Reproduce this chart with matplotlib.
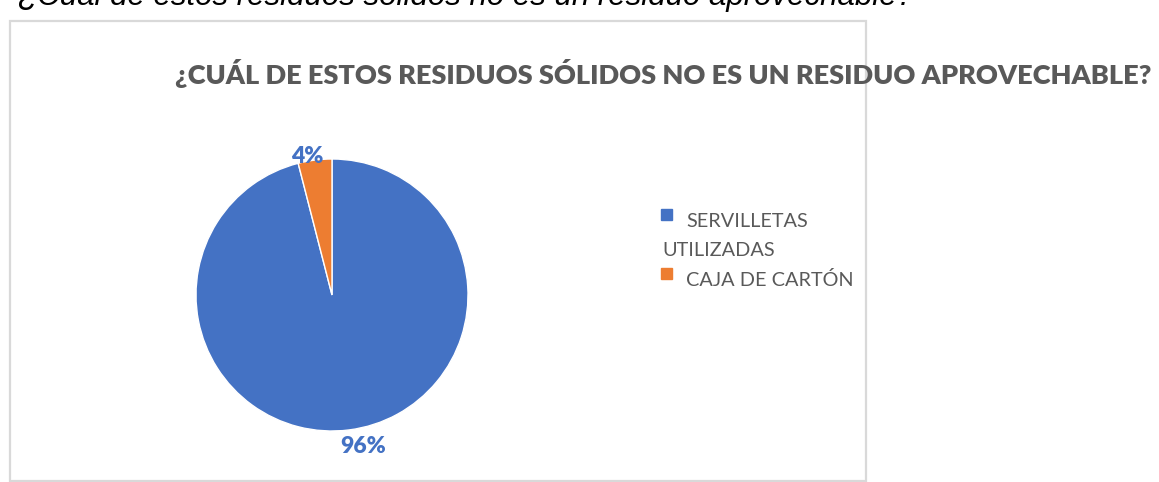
import numpy as np
import matplotlib
matplotlib.use("Agg")
import matplotlib.pyplot as plt
from matplotlib.patches import Rectangle

# data
categories = ["SERVILLETAS UTILIZADAS", "CAJA DE CARTÓN"]
values = [96, 4]
colors = ["#4472C4", "#ED7D31"]
title = "¿CUÁL DE ESTOS RESIDUOS SÓLIDOS NO ES UN RESIDUO APROVECHABLE?"
question = "¿Cuál de estos residuos sólidos no es un residuo aprovechable?"

W, H = 1159, 482
fig = plt.figure(figsize=(W / 100, H / 100), dpi=100)
fig.patch.set_facecolor("white")


def px(x, y):
    # pixel (from top-left) -> figure fraction
    return x / W, 1 - y / H


def fit_text(t, target_w):
    r = fig.canvas.get_renderer()
    w = t.get_window_extent(renderer=r).width
    t.set_fontsize(t.get_fontsize() * target_w / w)


# chart frame
fig.add_artist(Rectangle(px(10, 481), 856 / W, 460 / H, transform=fig.transFigure,
                         fill=False, edgecolor="#d9d9d9", lw=1.6))

# question text above the chart, cut off by the crop like in the original
q = fig.text(*px(18, 5), question, fontsize=17, style="italic",
             family="Liberation Sans", color="black", ha="left", va="baseline")
fit_text(q, 897)

# title
tt = fig.text(*px(175, 84), title, fontsize=19, fontweight="heavy",
              family="Lato", color="#595959", ha="left", va="baseline")
fit_text(tt, 977)

# pie
cx, cy, r = 332, 295, 136
ax = fig.add_axes([(cx - r) / W, 1 - (cy + r) / H, 2 * r / W, 2 * r / H])
wedges, _ = ax.pie(values, colors=colors, startangle=90, counterclock=False,
                   radius=1, wedgeprops=dict(edgecolor="white", linewidth=1.0))
ax.set_xlim(-1, 1)
ax.set_ylim(-1, 1)
ax.set_aspect("equal")
ax.axis("off")

total = sum(values)
lab_r = [1.12, 1.03]
lab_dx = [0.09, -0.05]
for w, v, lr, dx in zip(wedges, values, lab_r, lab_dx):
    ang = np.deg2rad((w.theta1 + w.theta2) / 2)
    ax.text(lr * np.cos(ang) + dx, lr * np.sin(ang), f"{round(100 * v / total)}%",
            ha="center", va="center", fontsize=16.5, fontweight="heavy",
            family="Lato", color="#4472C4", clip_on=False)

# legend, drawn the way the original wraps it
ly = [227, 286]
for i, (lab, c) in enumerate(zip(categories, colors)):
    fig.add_artist(Rectangle(px(661, ly[i] - 7), 11 / W, 11 / H,
                             transform=fig.transFigure, color=c))
    parts = lab.split(" ", 1) if i == 0 else [lab]
    fig.text(*px(686, ly[i]), parts[0], fontsize=14.3, family="Lato",
             color="#595959", ha="left", va="baseline")
    if len(parts) > 1:
        fig.text(*px(662, ly[i] + 29), parts[1], fontsize=14.3, family="Lato",
                 color="#595959", ha="left", va="baseline")

fig.savefig("out.png", dpi=100)
